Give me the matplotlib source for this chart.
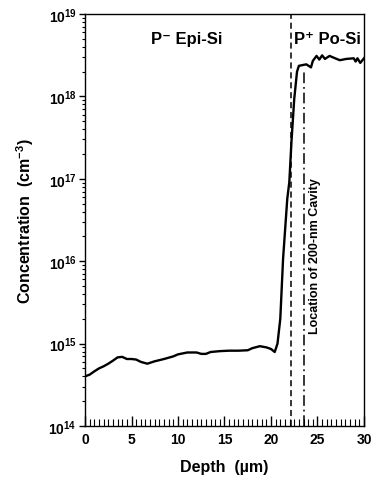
import numpy as np
import matplotlib
matplotlib.use("Agg")
import matplotlib.pyplot as plt
from matplotlib.ticker import LogLocator, MultipleLocator, FixedLocator

plt.rcParams["font.family"] = ["Liberation Sans", "DejaVu Sans"]
plt.rcParams["font.weight"] = "bold"
plt.rcParams["mathtext.fontset"] = "custom"
plt.rcParams["mathtext.rm"] = "Liberation Sans:bold"
plt.rcParams["mathtext.bf"] = "Liberation Sans:bold"
plt.rcParams["mathtext.it"] = "Liberation Sans:bold:italic"
plt.rcParams["mathtext.default"] = "rm"

# --------------------------------------------------
# SIMS profile
# --------------------------------------------------
depth = [0.0, 0.5, 1.0, 1.5, 2.0, 2.5, 3.0, 3.5, 4.0, 4.5, 5.0, 5.5, 6.0,
         6.7, 7.5, 8.5, 9.5, 10.0, 11.0, 12.0, 12.5, 13.0, 13.5, 14.5,
         15.5, 16.5, 17.5, 18.0, 18.8, 19.5, 20.0, 20.4, 20.7, 21.0, 21.3,
         21.75, 21.97, 22.2, 22.5, 22.8, 23.0, 23.4, 23.8, 24.3, 24.5,
         24.9, 25.2, 25.5, 25.8, 26.3, 26.9, 27.4, 28.1, 28.9, 29.1, 29.3,
         29.6, 30.0]
conc = [4.0e14, 4.2e14, 4.6e14, 5.0e14, 5.3e14, 5.7e14, 6.2e14, 6.8e14,
        6.9e14, 6.5e14, 6.5e14, 6.4e14, 6.0e14, 5.7e14, 6.1e14, 6.5e14,
        7.0e14, 7.4e14, 7.8e14, 7.8e14, 7.5e14, 7.5e14, 7.9e14, 8.1e14,
        8.2e14, 8.2e14, 8.3e14, 8.8e14, 9.3e14, 9.0e14, 8.6e14, 7.9e14,
        1.0e15, 2.0e15, 1.07e16, 5.7e16, 9.1e16, 2.8e17, 9.3e17, 2.0e18,
        2.35e18, 2.4e18, 2.45e18, 2.25e18, 2.7e18, 3.1e18, 2.8e18, 3.15e18,
        2.85e18, 3.1e18, 2.9e18, 2.75e18, 2.85e18, 2.9e18, 2.65e18, 2.9e18,
        2.55e18, 2.9e18]

interface_depth = 22.1     # epi / porous Si boundary
cavity_depth = 23.5        # location of 200-nm cavity
cavity_top = 2.05e18

fig = plt.figure(figsize=(3.78, 4.81), dpi=100)
ax = fig.add_axes([0.2249, 0.1123, 0.738, 0.8565])

ax.plot(depth, conc, color="black", lw=1.7)
ax.axvline(interface_depth, color="black", lw=1.1, ls=(0, (4, 2.5)))
ax.plot([cavity_depth, cavity_depth], [1e14, cavity_top], color="black",
        lw=1.1, ls=(0, (7, 2.5, 1.2, 2.5)))

ax.set_yscale("log")
ax.set_xlim(0, 30)
ax.set_ylim(1e14, 1e19)

ax.xaxis.set_major_locator(MultipleLocator(5))
ax.xaxis.set_minor_locator(MultipleLocator(0.5))
ax.yaxis.set_major_locator(FixedLocator([1e14, 1e15, 1e16, 1e17, 1e18, 1e19]))
ax.yaxis.set_minor_locator(LogLocator(base=10, subs=np.arange(2, 10), numticks=20))
ax.yaxis.set_major_formatter(plt.FuncFormatter(
    lambda v, p: r"$10^{%d}$" % round(np.log10(v))))
ax.yaxis.set_minor_formatter(plt.NullFormatter())

ax.tick_params(axis="x", which="major", direction="in", length=7.5,
               width=1.0, labelsize=10, pad=4)
ax.tick_params(axis="x", which="minor", direction="in", length=5, width=0.8)
ax.tick_params(axis="y", which="major", direction="out", length=4,
               width=1.0, labelsize=10, pad=2)
ax.tick_params(axis="y", which="minor", direction="out", length=2.5, width=0.8)
ax.tick_params(top=False, right=False, which="both")
for s in ax.spines.values():
    s.set_linewidth(1.0)

ax.set_xlabel("Depth  (µm)", fontsize=11.5, fontweight="bold", labelpad=10)
ax.set_ylabel("Concentration  (cm$^{\u2010 3}$)".replace("\u2010 ", "-"),
              fontsize=11.5, fontweight="bold", labelpad=9)

ax.text(10.9, 5.0e18, "P\u207b Epi-Si", ha="center", va="center",
        fontsize=12, fontweight="bold")
ax.text(26.1, 5.0e18, "P\u207a Po-Si", ha="center", va="center",
        fontsize=12, fontweight="bold")
ax.text(24.7, 1.2e16, "Location of 200-nm Cavity", rotation=90,
        ha="center", va="center", fontsize=9, fontweight="bold")

fig.savefig("out.png", dpi=100)
